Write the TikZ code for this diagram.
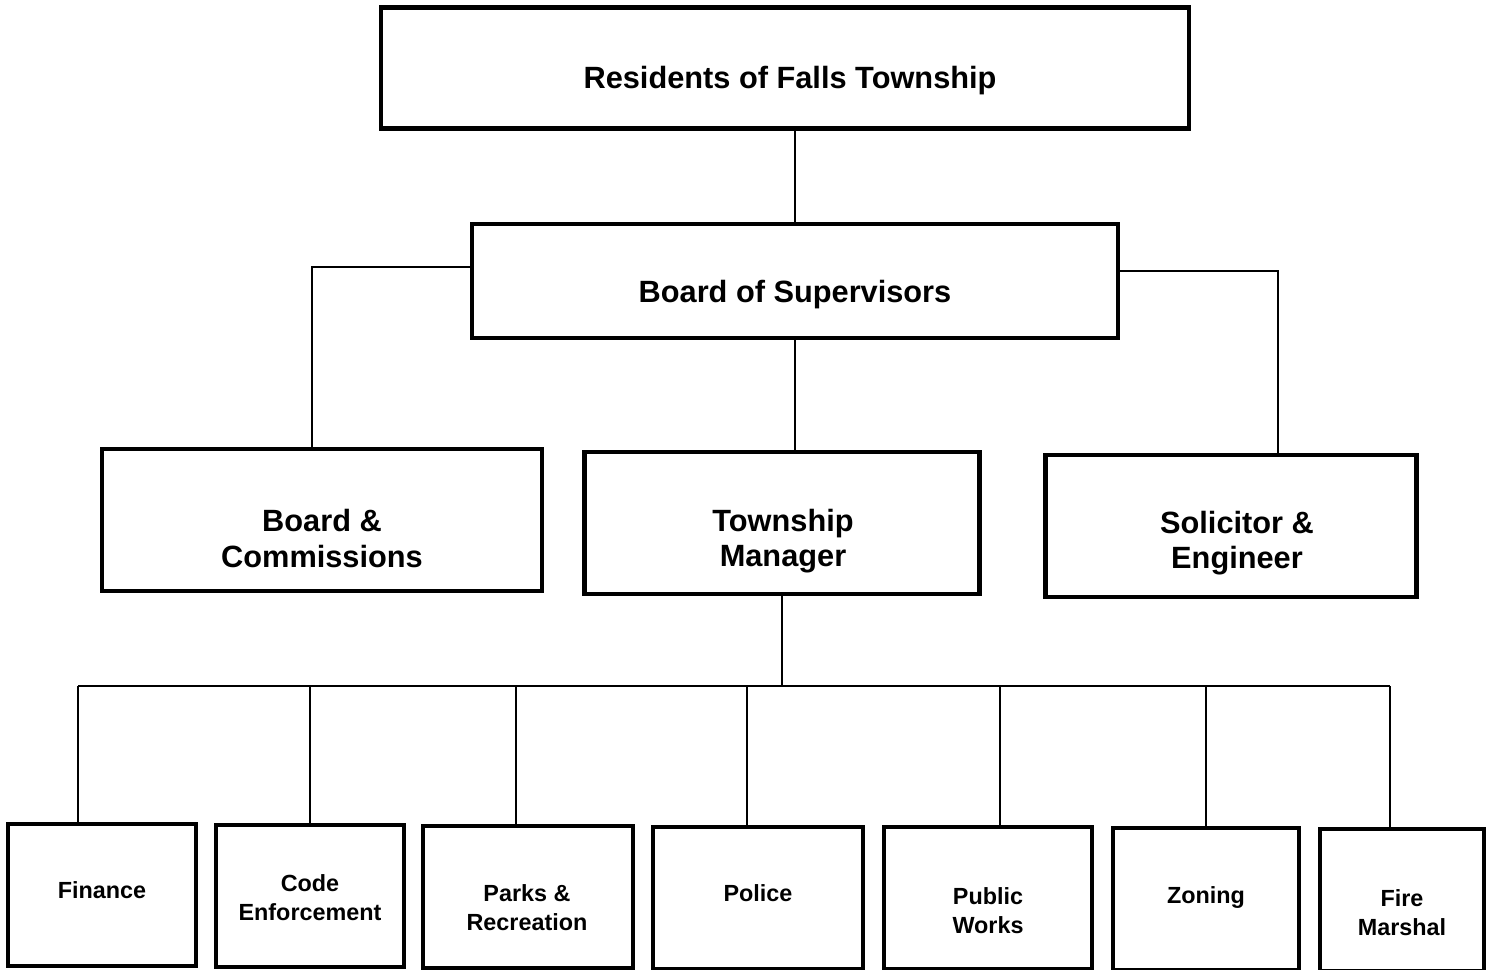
\documentclass[tikz,border=0pt]{standalone}
\usepackage{fontspec}
\setmainfont{Liberation Sans}
\usetikzlibrary{positioning}

\begin{document}
\begin{tikzpicture}[x=0.02cm,y=-0.02cm,line width=1.3pt]
        \tikzstyle{unit}=[draw, line width=2.6pt, inner sep=0pt]
        \tikzstyle{mid}=[unit, minimum height=2.84cm]
        \tikzstyle{dept}=[unit, minimum height=2.84cm]
        \tikzstyle{midtxt}=[align=center, inner sep=0pt, yshift=-0.07cm, font=\bfseries\fontsize{17.5}{20}\selectfont]
        \tikzstyle{depttxt}=[align=center, inner sep=0pt, yshift=-0.05cm, font=\bfseries\fontsize{13.3}{16.5}\selectfont]
        \useasboundingbox (0,0) rectangle (1492,970);

        \node[unit, minimum width=16.16cm, minimum height=2.42cm] (res)  at (785,68)   {};
        \node[unit, minimum width=12.92cm, minimum height=2.28cm] (bos)  at (795,281)  {};
        \node[mid, minimum width=8.8cm]  (bc)   at (322,520)  {};
        \node[mid, minimum width=7.9cm]  (tm)   at (782,523)  {};
        \node[mid, minimum width=7.42cm] (se)   at (1231,526) {};
        \node[dept, minimum width=3.76cm] (fin)   at (102,895)  {};
        \node[dept, minimum width=3.76cm] (code)  at (310,896)  {};
        \node[dept, minimum width=4.2cm]  (parks) at (528,897)  {};
        \node[dept, minimum width=4.2cm]  (pol)   at (758,898)  {};
        \node[dept, minimum width=4.16cm] (pw)    at (988,898)  {};
        \node[dept, minimum width=3.72cm] (zon)   at (1206,899) {};
        \node[dept, minimum width=3.28cm] (fm)    at (1402,900) {};

        \node[midtxt] (res-t)   at (790,77)   {Residents of Falls Township};
        \node[midtxt] (bos-t)   at (795,291)  {Board of Supervisors};
        \node[midtxt] (bc-t)    at (322,535)  {Board \&\\Commissions};
        \node[midtxt] (tm-t)    at (783,538)  {Township\\Manager};
        \node[midtxt] (se-t)    at (1237,540) {Solicitor \&\\Engineer};
        \node[depttxt] (fin-t)   at (102,888)  {Finance};
        \node[depttxt] (code-t)  at (310,895)  {Code\\Enforcement};
        \node[depttxt] (parks-t) at (527,905)  {Parks \&\\Recreation};
        \node[depttxt] (pol-t)   at (758,891)  {Police};
        \node[depttxt] (pw-t)    at (988,908)  {Public\\Works};
        \node[depttxt] (zon-t)   at (1206,895) {Zoning};
        \node[depttxt] (fm-t)    at (1402,910) {Fire\\Marshal};
        \coordinate (bus) at (782,686);

        \draw (bos.north) -- (bos.north |- res.south);
        \draw ([yshift=0.28cm]bos.west) -| ([xshift=-0.2cm]bc.north);
        \draw ([yshift=0.2cm]bos.east) -| ([xshift=0.94cm]se.north);
        \draw (bos.south) -- (bos.south |- tm.north);
        \draw (tm.south) -- (bus);
        \draw ([xshift=-0.48cm]fin.north |- bus) -- ([xshift=-0.24cm]fm.north |- bus);
        \foreach \n/\s in {fin/-0.48,code/0,parks/-0.24,pol/-0.22,pw/0.24,zon/0,fm/-0.24}
          \draw ([xshift=\s cm]\n.north) -- ([xshift=\s cm]\n.north |- bus);
\end{tikzpicture}
\end{document}
